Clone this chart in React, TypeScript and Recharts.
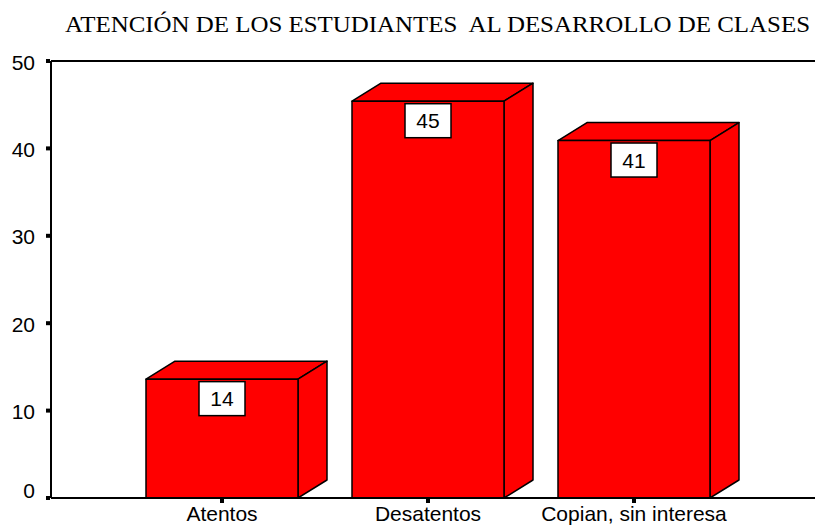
import React from 'react';
import { BarChart, Bar, XAxis, YAxis, ReferenceLine, LabelList } from 'recharts';

const categories = ['Atentos', 'Desatentos', 'Copian, sin interesa'];
const percents = [13.6, 45.4, 40.9];
const yTicks = [0, 10, 20, 30, 40, 50];
const title = 'ATENCIÓN DE LOS ESTUDIANTES  AL DESARROLLO DE CLASES';

const data = categories.map((name, i) => ({ name, value: percents[i] }));

const W = 815;
const H = 526;
const DEPTH_X = 29;
const DEPTH_Y = 18;
const SANS = '"Liberation Sans", Arial, sans-serif';

// front face + top + right side, SPSS style
function Box3D(props: any) {
  const { x, y, width, height } = props;
  const r = x + width;
  const b = y + height;
  return (
    <g stroke="#000" strokeWidth={1.5} strokeLinejoin="round" fill="#ff0000">
      <polygon points={`${x},${y} ${x + DEPTH_X},${y - DEPTH_Y} ${r + DEPTH_X},${y - DEPTH_Y} ${r},${y}`} />
      <polygon points={`${r},${y} ${r + DEPTH_X},${y - DEPTH_Y} ${r + DEPTH_X},${b - DEPTH_Y} ${r},${b}`} />
      <rect x={x} y={y} width={width} height={height} />
    </g>
  );
}

function ValueBox(props: any) {
  const { x, y, width, value } = props;
  const cx = x + width / 2;
  const bw = 46;
  const bh = 34;
  const top = y + 2.5;
  return (
    <g>
      <rect x={cx - bw / 2} y={top} width={bw} height={bh} fill="#fff" stroke="#000" strokeWidth={1.5} />
      <text x={cx} y={top + bh / 2 + 7.5} textAnchor="middle" fontFamily={SANS} fontSize={21} fill="#000">
        {Math.round(value)}
      </text>
    </g>
  );
}

function YTick(props: any) {
  const { x, y, payload } = props;
  const dy = payload.value === 0 ? -0.5 : 8.5;
  return (
    <g>
      <rect x={x - 5} y={y - 2} width={4} height={4} fill="#000" />
      <text x={x - 16} y={y + dy} textAnchor="end" fontFamily={SANS} fontSize={21} fill="#000">
        {payload.value}
      </text>
    </g>
  );
}

function XTick(props: any) {
  const { x, y, payload } = props;
  return (
    <g>
      <rect x={x - 2} y={y + 1} width={4} height={4} fill="#000" />
      <text x={x} y={y + 23} textAnchor="middle" fontFamily={SANS} fontSize={21} fill="#000">
        {payload.value}
      </text>
    </g>
  );
}

export default function App() {
  return (
    <div style={{ position: 'absolute', left: 0, top: 0, width: W, height: H, background: '#fff' }}>
      <svg width={W} height={H} style={{ position: 'absolute', left: 0, top: 0 }}>
        <text
          x={65}
          y={32}
          textLength={745}
          lengthAdjust="spacingAndGlyphs"
          fontFamily='"Liberation Serif", "Times New Roman", serif'
          fontSize={22.5}
          fill="#000"
          style={{ whiteSpace: 'pre' }}
        >
          {title}
        </text>
      </svg>
      <div style={{ position: 'absolute', left: 0, top: 0 }}>
        <BarChart width={W} height={H} data={data} margin={{ top: 61, right: 0, bottom: 0, left: 0 }}>
          <XAxis
            dataKey="name"
            height={28}
            padding={{ left: 68, right: 78 }}
            axisLine={{ stroke: '#000', strokeWidth: 2 }}
            tickLine={false}
            tickSize={0}
            tickMargin={0}
            tick={<XTick />}
            interval={0}
          />
          <YAxis
            width={51}
            domain={[0, 50]}
            ticks={yTicks}
            allowDataOverflow
            axisLine={{ stroke: '#000', strokeWidth: 2 }}
            tickLine={false}
            tickSize={0}
            tickMargin={0}
            tick={<YTick />}
          />
          <ReferenceLine y={50} stroke="#000" strokeWidth={2} />
          <Bar dataKey="value" barSize={152} fill="#ff0000" shape={<Box3D />} isAnimationActive={false}>
            <LabelList dataKey="value" content={<ValueBox />} />
          </Bar>
        </BarChart>
      </div>
    </div>
  );
}
